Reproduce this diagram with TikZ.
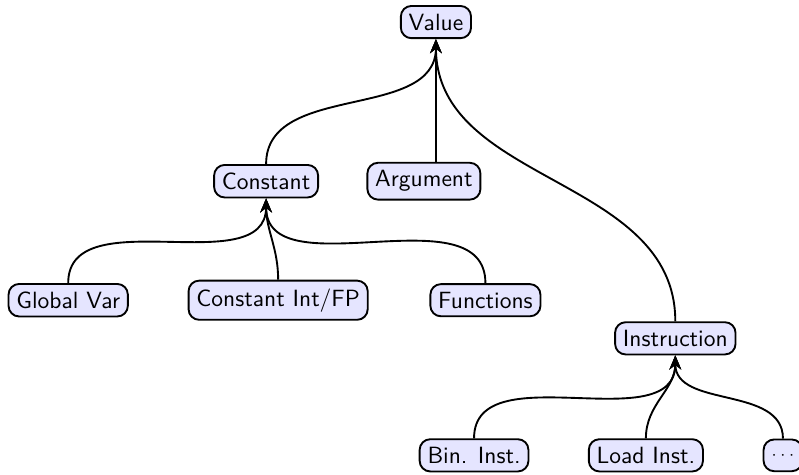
\documentclass[tikz,border=0pt]{standalone}
\usepackage{tikz}
\usetikzlibrary{arrows.meta}
\tikzset{box/.style = {draw, thick, rounded corners=4.5pt, fill=blue!10,
                       font=\sffamily, minimum height=13.5pt},
         up/.style = {thick, -{Stealth[length=6pt,width=5pt]},
                      out=90, in=-90}}

\begin{document}
\begin{tikzpicture}
      \useasboundingbox (0,0) rectangle (11.95,7.09);

      \node[box] (value) at (6.52,6.76) {Value};

      \node[box] (constant) at (3.98,4.38) {Constant};
      \node[box] (argument) at (6.34,4.38) {Argument};
      \node[box] (instr) at (10.10,2.03) {Instruction};

      \node[box] (global) at (1.02,2.60) {Global Var};
      \node[box] (constint) at (4.16,2.60) {Constant Int/FP};
      \node[box] (functions) at (7.26,2.60) {Functions};

      \node[box] (bininst) at (7.09,0.28) {Bin. Inst.};
      \node[box] (loadinst) at (9.66,0.28) {Load Inst.};
      \node[box] (more) at (11.71,0.28) {\scriptsize$\cdots$};

      \draw[up] (constant.north) to (value.south);
      \draw[up] (argument.north -| value.south) to (value.south);
      \draw[up] (instr.north) to (value.south);

      \draw[up] (global.north) to (constant.south);
      \draw[up] (constint.north) to (constant.south);
      \draw[up] (functions.north) to (constant.south);

      \draw[up] (bininst.north) to (instr.south);
      \draw[up] (loadinst.north) to (instr.south);
      \draw[up] (more.north) to (instr.south);
    \end{tikzpicture}
\end{document}
